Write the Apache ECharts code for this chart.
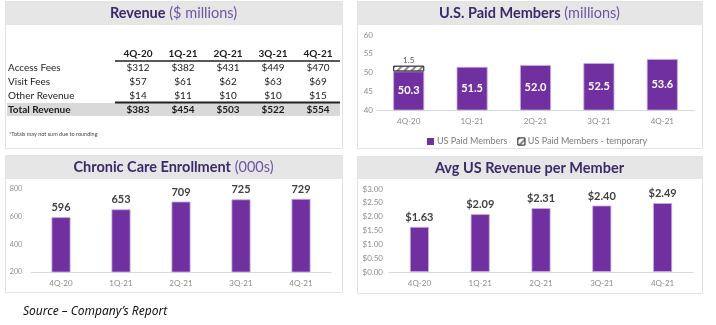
<!DOCTYPE html>
<html>
<head>
<meta charset="utf-8">
<script src="https://cdn.jsdelivr.net/npm/echarts@6/dist/echarts.min.js"></script>
<style>
  html, body { margin: 0; padding: 0; background: #fff; }
  #chart { width: 716px; height: 325px; }
</style>
</head>
<body>
<div id="chart"></div>
<script>
// Quarterly figures
const quarters = ['4Q-20', '1Q-21', '2Q-21', '3Q-21', '4Q-21'];

// Revenue table ($ millions)
const accessFees = [312, 382, 431, 449, 470];
const visitFees = [57, 61, 62, 63, 69];
const otherRevenue = [14, 11, 10, 10, 15];
const totalRevenue = [383, 454, 503, 522, 554];

// U.S. paid members (millions)
const paidMembers = [50.3, 51.5, 52.0, 52.5, 53.6];
const paidMembersTemporary = [1.5, null, null, null, null];
const membersTicks = [40, 45, 50, 55, 60];

// Chronic care enrollment (000s)
const chronicCare = [596, 653, 709, 725, 729];
const chronicTicks = [200, 400, 600, 800];

// Average US revenue per member ($)
const avgRevenue = [1.63, 2.09, 2.31, 2.40, 2.49];
const avgTicks = [0, 0.5, 1, 1.5, 2, 2.5, 3];

const PURPLE = '#7030a0';
const TITLE_DARK = '#3b2a6a';
const TITLE_LIGHT = '#6f55a5';
const BAND = '#e7e6e6';
const FONT = 'Lato, "Open Sans", sans-serif';

const chart = echarts.init(document.getElementById('chart'), null, { renderer: 'canvas' });

// Panel frames and title bands
const panels = [
  { x: 5, y: 1, w: 337, h: 147, band: 23, bold: 'Revenue', light: ' ($ millions)' },
  { x: 357, y: 1, w: 345, h: 147, band: 23, bold: 'U.S. Paid Members', light: ' (millions)' },
  { x: 5, y: 155, w: 337, h: 137, band: 23, bold: 'Chronic Care Enrollment', light: ' (000s)' },
  { x: 357, y: 156, w: 345, h: 137, band: 22, bold: 'Avg US Revenue per Member', light: '' }
];
const graphics = [];
panels.forEach(p => {
  graphics.push({
    type: 'rect', shape: { x: p.x + 0.5, y: p.y + 0.5, width: p.w, height: p.h },
    style: { fill: '#fff', stroke: '#e3e3e3', lineWidth: 1 }, z: 0
  });
  graphics.push({
    type: 'rect', shape: { x: p.x + 1, y: p.y + 1, width: p.w - 1, height: p.band },
    style: { fill: BAND }, z: 1
  });
  graphics.push({
    type: 'text', x: p.x + p.w / 2, y: p.y + 1 + p.band / 2, z: 2,
    style: {
      text: '{b|' + p.bold + '}' + (p.light ? '{l|' + p.light + '}' : ''),
      align: 'center', verticalAlign: 'middle',
      rich: {
        b: { fontFamily: FONT, fontWeight: 'bold', fontSize: 14.5, fill: TITLE_DARK },
        l: { fontFamily: FONT, fontWeight: 'normal', fontSize: 14.5, fill: TITLE_LIGHT }
      }
    }
  });
});

// Revenue table
const colX = [138, 183, 228, 273, 318];
const rows = [
  { label: 'Access Fees', values: accessFees, y: 68, bold: false },
  { label: 'Visit Fees', values: visitFees, y: 82, bold: false },
  { label: 'Other Revenue', values: otherRevenue, y: 96, bold: false },
  { label: 'Total Revenue', values: totalRevenue, y: 110, bold: true }
];
const TXT = '#1b1b1b';
graphics.push({ type: 'rect', shape: { x: 7, y: 103, width: 333, height: 13 }, style: { fill: '#d9d9d9' }, z: 1 });
quarters.forEach((q, i) => {
  graphics.push({ type: 'text', x: colX[i], y: 54, z: 2,
    style: { text: q, align: 'center', verticalAlign: 'middle', fontFamily: FONT, fontWeight: 'bold', fontSize: 10, fill: TXT } });
});
graphics.push({ type: 'line', shape: { x1: 115, y1: 61, x2: 340, y2: 61 }, style: { stroke: '#222', lineWidth: 1.5 }, z: 2 });
graphics.push({ type: 'line', shape: { x1: 115, y1: 102.5, x2: 340, y2: 102.5 }, style: { stroke: '#222', lineWidth: 2 }, z: 2 });
rows.forEach(r => {
  graphics.push({ type: 'text', x: 8, y: r.y, z: 2,
    style: { text: r.label, align: 'left', verticalAlign: 'middle', fontFamily: FONT, fontWeight: r.bold ? 'bold' : 'normal', fontSize: 10, fill: TXT } });
  r.values.forEach((v, i) => {
    graphics.push({ type: 'text', x: colX[i], y: r.y, z: 2,
      style: { text: '$' + v, align: 'center', verticalAlign: 'middle', fontFamily: FONT, fontWeight: r.bold ? 'bold' : 'normal', fontSize: 10, fill: TXT } });
  });
});
graphics.push({ type: 'text', x: 9, y: 134, z: 2,
  style: { text: '*Totals may not sum due to rounding', align: 'left', verticalAlign: 'middle', fontFamily: FONT, fontSize: 5.5, fill: '#444' } });

// Source line
graphics.push({ type: 'text', x: 23, y: 312, z: 2,
  style: { text: 'Source \u2013 Company\u2019s Report', align: 'left', verticalAlign: 'middle', fontFamily: '"Noto Sans", sans-serif', fontStyle: 'italic', fontSize: 12, fill: '#111' } });

const axisLabelStyle = { color: '#8c8c8c', fontFamily: FONT, fontSize: 8 };
const barItem = { color: PURPLE, borderColor: '#c7aee0', borderWidth: 0.8 };
const valueLabel = { show: true, position: 'top', color: '#404040', fontFamily: FONT, fontWeight: 'bold', fontSize: 11, distance: 4 };

const option = {
  animation: false,
  backgroundColor: '#fff',
  graphic: { elements: graphics },
  legend: {
    data: [
      { name: 'US Paid Members', icon: 'rect', itemStyle: { borderWidth: 0 } },
      { name: 'US Paid Members - temporary', icon: 'rect', itemStyle: { borderColor: '#444', borderWidth: 1 } }
    ],
    left: 422, top: 132,
    itemWidth: 7, itemHeight: 7, itemGap: 10,
    textStyle: { color: '#7a7a7a', fontFamily: FONT, fontSize: 9, padding: [0, 0, 0, -2] }
  },
  grid: [
    { left: 377, width: 317, top: 35, height: 75 },
    { left: 31, width: 300, top: 189, height: 83 },
    { left: 389, width: 304, top: 189, height: 83 }
  ],
  xAxis: [0, 1, 2].map(g => ({
    type: 'category', gridIndex: g, data: quarters,
    axisLine: { lineStyle: { color: '#d9d9d9' } },
    axisTick: { show: false },
    axisLabel: Object.assign({}, axisLabelStyle, { margin: 7 })
  })),
  yAxis: [
    { type: 'value', gridIndex: 0, min: membersTicks[0], max: membersTicks[membersTicks.length - 1], interval: 5,
      splitLine: { show: false }, axisLabel: Object.assign({}, axisLabelStyle, { margin: 4, align: 'right' }) },
    { type: 'value', gridIndex: 1, min: chronicTicks[0], max: chronicTicks[chronicTicks.length - 1], interval: 200,
      splitLine: { show: false }, axisLabel: Object.assign({}, axisLabelStyle, { fontSize: 7, margin: 9 }) },
    { type: 'value', gridIndex: 2, min: avgTicks[0], max: avgTicks[avgTicks.length - 1], interval: 0.5,
      splitLine: { show: false },
      axisLabel: Object.assign({}, axisLabelStyle, { margin: 6, formatter: v => '$' + v.toFixed(2) }) }
  ],
  series: [
    {
      name: 'US Paid Members', type: 'bar', stack: 'members', xAxisIndex: 0, yAxisIndex: 0,
      data: paidMembers, barWidth: 31, itemStyle: barItem,
      label: { show: true, position: 'inside', color: '#fff', fontFamily: FONT, fontWeight: 'bold', fontSize: 11,
        formatter: p => p.value.toFixed(1) }
    },
    {
      name: 'US Paid Members - temporary', type: 'bar', stack: 'members', xAxisIndex: 0, yAxisIndex: 0,
      data: paidMembersTemporary, barWidth: 31,
      itemStyle: {
        color: '#fff', borderColor: '#333', borderWidth: 1,
        decal: { symbol: 'rect', symbolSize: 1, color: '#8a8a8a', backgroundColor: '#fff',
          dashArrayX: [1, 0], dashArrayY: [1.5, 3], rotation: -Math.PI / 4 }
      },
      label: { show: true, position: 'top', color: '#555', fontFamily: FONT, fontSize: 8, distance: 1,
        formatter: p => p.value == null ? '' : p.value.toFixed(1) }
    },
    {
      name: 'Chronic Care', type: 'bar', xAxisIndex: 1, yAxisIndex: 1,
      data: chronicCare, barWidth: 19, itemStyle: barItem, label: valueLabel
    },
    {
      name: 'Avg Revenue', type: 'bar', xAxisIndex: 2, yAxisIndex: 2,
      data: avgRevenue, barWidth: 19, itemStyle: barItem,
      label: Object.assign({}, valueLabel, { formatter: p => '$' + p.value.toFixed(2) })
    }
  ]
};
chart.setOption(option);
</script>
</body>
</html>
